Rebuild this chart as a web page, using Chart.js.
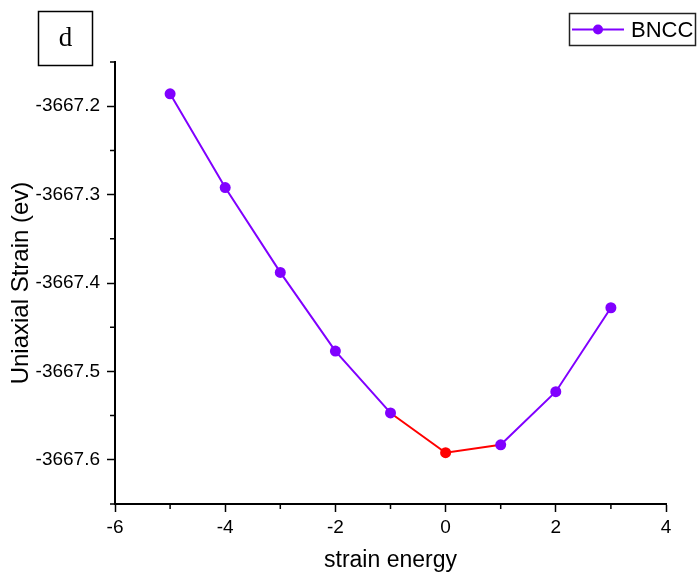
<!DOCTYPE html>
<html>
<head>
<meta charset="utf-8">
<title>BNCC uniaxial strain</title>
<script src="https://cdn.jsdelivr.net/npm/chart.js@4.4.1/dist/chart.umd.min.js"></script>
<style>
  html, body { margin: 0; padding: 0; background: #fff; }
  #wrap { width: 698px; height: 578px; position: relative; }
</style>
</head>
<body>
<div id="wrap"><canvas id="strain"></canvas></div>
<script>
// strain steps and total energy for BNCC
const strainSteps = [-5, -4, -3, -2, -1, 0, 1, 2, 3];
const energyValues = [-3667.186, -3667.292, -3667.388, -3667.477, -3667.547, -3667.592, -3667.583, -3667.523, -3667.428];
const seriesName = 'BNCC';
const panelLetter = 'd';

const xTicks = [-6, -4, -2, 0, 2, 4];
const xMinor = [-5, -3, -1, 1, 3];
const yTicks = [-3667.6, -3667.5, -3667.4, -3667.3, -3667.2];
const yMinor = [-3667.65, -3667.55, -3667.45, -3667.35, -3667.25, -3667.15];

const PURPLE = '#8000ff';
const RED = '#ff0000';
const SANS = '"Liberation Sans", Arial, sans-serif';

// the segment around the minimum (-1 .. 1) is drawn in red
const isMinimumPart = x => x >= -1 && x <= 1;

const minorTicks = {
    id: 'minorTicks',
    afterDraw(chart) {
        const ctx = chart.ctx;
        const xs = chart.scales.x, ys = chart.scales.y;
        ctx.save();
        ctx.strokeStyle = '#000';
        ctx.lineWidth = 1.5;
        ctx.beginPath();
        xMinor.forEach(v => {
            const px = xs.getPixelForValue(v);
            ctx.moveTo(px, ys.bottom);
            ctx.lineTo(px, ys.bottom + 5);
        });
        yMinor.forEach(v => {
            const py = ys.getPixelForValue(v);
            ctx.moveTo(xs.left, py);
            ctx.lineTo(xs.left - 5, py);
        });
        ctx.stroke();
        ctx.restore();
    }
};

const boxes = {
    id: 'boxes',
    afterDraw(chart) {
        const ctx = chart.ctx;
        ctx.save();
        // panel letter
        ctx.strokeStyle = '#000';
        ctx.lineWidth = 1.5;
        ctx.strokeRect(38.5, 11.5, 54, 54);
        ctx.fillStyle = '#000';
        ctx.font = '27px "Liberation Serif", "Times New Roman", serif';
        ctx.textAlign = 'center';
        ctx.textBaseline = 'middle';
        ctx.fillText(panelLetter, 65.5, 39);

        // legend
        ctx.strokeStyle = '#222';
        ctx.strokeRect(569.5, 13.5, 126, 32);
        ctx.strokeStyle = PURPLE;
        ctx.lineWidth = 2;
        ctx.beginPath();
        ctx.moveTo(572, 29.5);
        ctx.lineTo(624, 29.5);
        ctx.stroke();
        ctx.fillStyle = PURPLE;
        ctx.beginPath();
        ctx.arc(598, 29.5, 5, 0, Math.PI * 2);
        ctx.fill();
        ctx.fillStyle = '#000';
        ctx.font = '22px ' + SANS;
        ctx.textAlign = 'left';
        ctx.textBaseline = 'alphabetic';
        ctx.fillText(chart.data.datasets[0].label, 631, 37);
        ctx.restore();
    }
};

new Chart(document.getElementById('strain'), {
    type: 'line',
    data: {
        datasets: [{
            label: seriesName,
            data: strainSteps.map((x, i) => ({ x: x, y: energyValues[i] })),
            borderColor: PURPLE,
            borderWidth: 2,
            pointRadius: 5.5,
            pointHoverRadius: 5.5,
            pointBorderWidth: 0,
            pointBackgroundColor: strainSteps.map(x => x === 0 ? RED : PURPLE),
            segment: {
                borderColor: c => (isMinimumPart(c.p0.parsed.x) && isMinimumPart(c.p1.parsed.x)) ? RED : PURPLE
            },
            tension: 0,
            fill: false
        }]
    },
    options: {
        responsive: true,
        maintainAspectRatio: false,
        animation: false,
        events: [],
        layout: { padding: { top: 62, right: 32, left: 0, bottom: 0 } },
        plugins: {
            legend: { display: false },
            tooltip: { enabled: false }
        },
        scales: {
            x: {
                type: 'linear',
                min: -6,
                max: 4,
                afterBuildTicks: s => { s.ticks = xTicks.map(v => ({ value: v })); },
                afterFit: s => { s.height = 74; },
                grid: { drawOnChartArea: false, drawTicks: true, tickLength: 8, tickColor: '#000', tickWidth: 1.5 },
                border: { display: true, color: '#000', width: 2 },
                ticks: { color: '#000', padding: 4, maxRotation: 0, autoSkip: false, font: { family: SANS, size: 19 } },
                title: { display: true, text: 'strain energy', color: '#000', padding: { top: 4, bottom: 4 }, font: { family: SANS, size: 23 } }
            },
            y: {
                type: 'linear',
                min: -3667.65,
                max: -3667.15,
                afterBuildTicks: s => { s.ticks = yTicks.map(v => ({ value: v })); },
                afterFit: s => { s.width = 115; },
                grid: { drawOnChartArea: false, drawTicks: true, tickLength: 8, tickColor: '#000', tickWidth: 1.5 },
                border: { display: true, color: '#000', width: 2 },
                ticks: { color: '#000', padding: 7, autoSkip: false, font: { family: SANS, size: 19 },
                    callback: v => v.toFixed(1) },
                title: { display: true, text: 'Uniaxial Strain (ev)', color: '#000', padding: { top: 7, bottom: 0 }, font: { family: SANS, size: 24 } }
            }
        }
    },
    plugins: [minorTicks, boxes]
});
</script>
</body>
</html>
